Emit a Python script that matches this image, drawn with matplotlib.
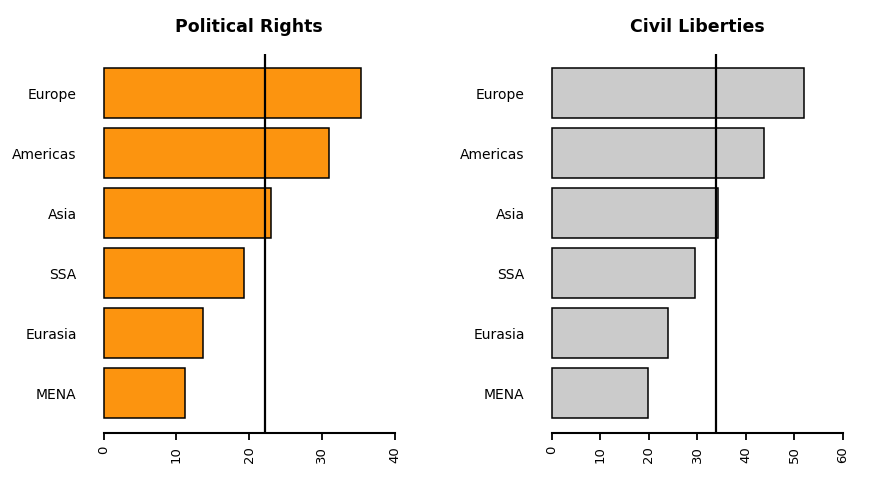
import numpy as np
import matplotlib
matplotlib.use('Agg')
import matplotlib.pyplot as plt

plt.rcParams['font.family'] = ['DejaVu Sans']

regions = ['Europe', 'Americas', 'Asia', 'SSA', 'Eurasia', 'MENA']

political = [35.4, 31.0, 23.0, 19.3, 13.6, 11.2]
political_mean = 22.2
political_ticks = [0, 10, 20, 30, 40]

civil = [52.0, 43.8, 34.4, 29.5, 24.0, 19.8]
civil_mean = 33.9
civil_ticks = [0, 10, 20, 30, 40, 50, 60]

W, H = 889, 501
fig = plt.figure(figsize=(W/100, H/100), dpi=100)

# pixel boxes of the two plot regions (left, top, right, bottom)
ax_pr = fig.add_axes([92/W, (H-433.3)/H, 314.3/W, 379.3/H])
ax_cl = fig.add_axes([540/W, (H-433.3)/H, 314.3/W, 379.3/H])


def panel(ax, values, mean, ticks, color, title):
    ypos = np.arange(len(values))[::-1]
    ax.barh(ypos, values, height=50/60, color=color, edgecolor='black', linewidth=1.1)
    ax.axvline(mean, color='black', linewidth=1.6)

    span = ticks[-1] - ticks[0]
    ax.set_xlim(ticks[0] - 0.04*span, ticks[-1] + 0.04*span)
    ax.set_ylim(-0.667, len(values) - 1 + 0.655)

    for s in ['top', 'right', 'left']:
        ax.spines[s].set_visible(False)
    ax.spines['bottom'].set_bounds(ticks[0], ticks[-1])
    ax.spines['bottom'].set_linewidth(1.5)

    ax.set_xticks(ticks)
    ax.set_xticklabels([str(t) for t in ticks], rotation=90, fontsize=9.5)
    ax.tick_params(axis='x', length=5, width=1.3, pad=4)

    ax.set_yticks(ypos)
    ax.set_yticklabels(regions, fontsize=10)
    ax.tick_params(axis='y', length=0, pad=11)

    ax.set_title(title, fontsize=12.5, fontweight='bold', pad=15.5)


panel(ax_pr, political, political_mean, political_ticks, '#FC940F', 'Political Rights')
panel(ax_cl, civil, civil_mean, civil_ticks, '#CBCBCB', 'Civil Liberties')

fig.savefig('out.png', dpi=100)
